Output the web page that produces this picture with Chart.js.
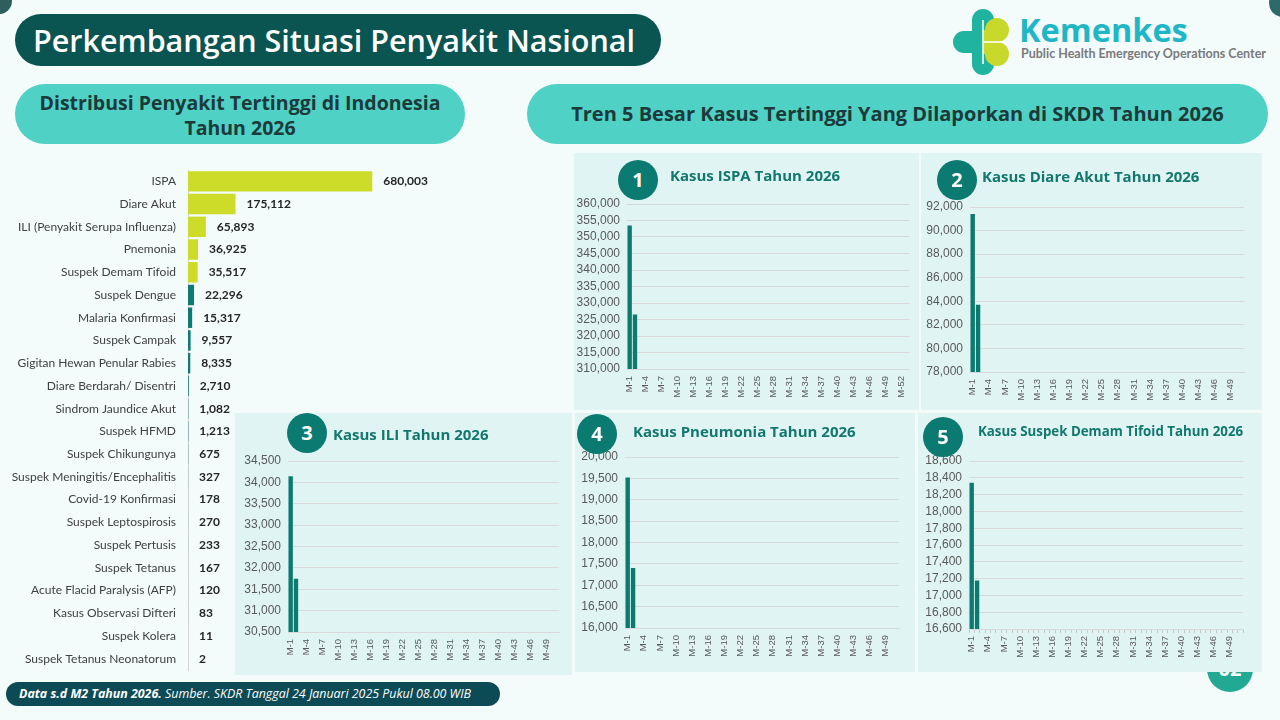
<!DOCTYPE html>
<html>
<head>
<meta charset="utf-8">
<script src="https://cdn.jsdelivr.net/npm/chart.js@4.4.1/dist/chart.umd.min.js"></script>
<style>
body { margin: 0; }
#page { position: relative; width: 1280px; height: 720px; overflow: hidden; background: #f3fbfb; font-family: "Open Sans", sans-serif; }
.abs { position: absolute; }
.panel { position: absolute; background: #e1f4f4; }
.pill { position: absolute; background: #4fd1c5; color: #1c3a3a; font-weight: 700; text-align: center; border-radius: 30px; }
.badge { position: absolute; width: 40px; height: 40px; border-radius: 50%; background: #0b7a70; color: #fff; font: 700 20px "Open Sans"; text-align: center; line-height: 40px; z-index: 3; }
.ctitle { position: absolute; color: #12786e; font: 700 15px "Open Sans"; line-height: 20px; z-index: 3; white-space: nowrap; }
canvas { position: absolute; z-index: 2; }
</style>
</head>
<body>
<div id="page">
  <div class="abs" style="left:-14px;top:-12px;width:26px;height:26px;border-radius:50%;background:#2f5e5e"></div>
  <div class="abs" style="left:1269px;top:-11px;width:28px;height:28px;border-radius:50%;background:#2e6a6a"></div>

  <div class="abs" style="left:15px;top:14px;width:646px;height:52px;border-radius:26px;background:#0a5452;color:#fff;font:600 30.5px 'Open Sans';line-height:52px;padding-left:18px;box-sizing:border-box;white-space:nowrap">Perkembangan Situasi Penyakit Nasional</div>

  <svg class="abs" style="left:948px;top:6px;z-index:3" width="70" height="72" viewBox="948 6 70 72">
    <rect x="953" y="31" width="34" height="22" rx="11" fill="#1fb3a0"/>
    <rect x="972" y="9" width="22" height="34" rx="11" fill="#1fb3a0"/>
    <rect x="972" y="42" width="22" height="33" rx="11" fill="#1fb3a0"/>
    <circle cx="997" cy="30" r="12" fill="#c8d92b"/>
    <circle cx="997" cy="54" r="12" fill="#c8d92b"/>
    <rect x="983" y="30" width="14" height="24" fill="#c8d92b"/>
    <path d="M983 20 L983 64 M983 42 L1008 42" stroke="#fff" stroke-width="1.5"/>
  </svg>
  <div class="abs" style="left:1019px;top:13px;color:#1fb6c5;font:700 32.5px 'Open Sans';line-height:34px">Kemenkes</div>
  <div class="abs" style="left:1021px;top:47px;color:#7a7a7a;font:700 12.5px Lato;line-height:14px;white-space:nowrap">Public Health Emergency Operations Center</div>

  <div class="pill" style="left:15px;top:84px;width:450px;height:60px;font-size:19.5px;line-height:25px;padding-top:6px;box-sizing:border-box;white-space:nowrap">Distribusi Penyakit Tertinggi di Indonesia<br>Tahun 2026</div>
  <div class="pill" style="left:527px;top:84px;width:741px;height:60px;font-size:20px;line-height:60px;white-space:nowrap">Tren 5 Besar Kasus Tertinggi Yang Dilaporkan di SKDR Tahun 2026</div>

  <div class="abs" style="left:1207px;top:646px;width:46px;height:46px;border-radius:50%;background:#22a994;color:#fff;font:700 20px 'Open Sans';text-align:center;line-height:46px">02</div>

  <div class="panel" style="left:574px;top:153px;width:345px;height:257px"></div>
  <div class="panel" style="left:921px;top:153px;width:341px;height:257px"></div>
  <div class="panel" style="left:235px;top:413px;width:337px;height:262px"></div>
  <div class="panel" style="left:575px;top:413px;width:340px;height:259px"></div>
  <div class="panel" style="left:918px;top:413px;width:344px;height:259px"></div>

  <canvas id="distChart" width="470" height="540" style="left:0px;top:150px"></canvas>
  <canvas id="ispaChart" width="348" height="217" style="left:573px;top:188px"></canvas>
  <canvas id="diareChart" width="340" height="217" style="left:916px;top:191px"></canvas>
  <canvas id="iliChart" width="337" height="223" style="left:234px;top:445px"></canvas>
  <canvas id="pneuChart" width="340" height="223" style="left:571px;top:441px"></canvas>
  <canvas id="tifoidChart" width="340" height="220" style="left:915px;top:445px"></canvas>

  <div class="badge" style="left:618px;top:160px">1</div>
  <div class="ctitle" style="left:670px;top:165px">Kasus ISPA Tahun 2026</div>
  <div class="badge" style="left:937px;top:160px">2</div>
  <div class="ctitle" style="left:982px;top:166px">Kasus Diare Akut Tahun 2026</div>
  <div class="badge" style="left:287px;top:413px">3</div>
  <div class="ctitle" style="left:333px;top:424px">Kasus ILI Tahun 2026</div>
  <div class="badge" style="left:577px;top:414px">4</div>
  <div class="ctitle" style="left:633px;top:421px">Kasus Pneumonia Tahun 2026</div>
  <div class="badge" style="left:923px;top:417px">5</div>
  <div class="ctitle" style="left:978px;top:421px;font-size:13.3px">Kasus Suspek Demam Tifoid Tahun 2026</div>

  <div class="abs" style="left:6px;top:682px;width:494px;height:24px;border-radius:12px;background:#0c4a55;color:#fff;font:italic 12.4px 'Open Sans';line-height:24px;padding-left:13px;box-sizing:border-box;white-space:nowrap"><b>Data s.d M2 Tahun 2026.</b> Sumber. SKDR Tanggal 24 Januari 2025 Pukul 08.00 WIB</div>
</div>

<script>
const diseases = [
    'ISPA', 'Diare Akut', 'ILI (Penyakit Serupa Influenza)', 'Pnemonia', 'Suspek Demam Tifoid',
    'Suspek Dengue', 'Malaria Konfirmasi', 'Suspek Campak', 'Gigitan Hewan Penular Rabies',
    'Diare Berdarah/ Disentri', 'Sindrom Jaundice Akut', 'Suspek HFMD', 'Suspek Chikungunya',
    'Suspek Meningitis/Encephalitis', 'Covid-19 Konfirmasi', 'Suspek Leptospirosis', 'Suspek Pertusis',
    'Suspek Tetanus', 'Acute Flacid Paralysis (AFP)', 'Kasus Observasi Difteri', 'Suspek Kolera',
    'Suspek Tetanus Neonatorum'
];
const totals = [680003, 175112, 65893, 36925, 35517, 22296, 15317, 9557, 8335, 2710, 1082, 1213, 675, 327, 178, 270, 233, 167, 120, 83, 11, 2];

const weeks = [
    'M-1', 'M-2', 'M-3', 'M-4', 'M-5', 'M-6', 'M-7', 'M-8', 'M-9', 'M-10',
    'M-11', 'M-12', 'M-13', 'M-14', 'M-15', 'M-16', 'M-17', 'M-18', 'M-19', 'M-20',
    'M-21', 'M-22', 'M-23', 'M-24', 'M-25', 'M-26', 'M-27', 'M-28', 'M-29', 'M-30',
    'M-31', 'M-32', 'M-33', 'M-34', 'M-35', 'M-36', 'M-37', 'M-38', 'M-39', 'M-40',
    'M-41', 'M-42', 'M-43', 'M-44', 'M-45', 'M-46', 'M-47', 'M-48', 'M-49', 'M-50',
    'M-51', 'M-52', 'M-53'
];
const weeksShort = weeks.slice(0, 51);

const ispaWeekly = [353500, 326503];
const diareWeekly = [91400, 83712];
const iliWeekly = [34145, 31748];
const pneumoniaWeekly = [19520, 17405];
const tifoidWeekly = [18340, 17177];

// value labels at the end of each bar
const valueLabels = {
    id: 'valueLabels',
    afterDatasetsDraw(chart) {
        const ctx = chart.ctx;
        const meta = chart.getDatasetMeta(0);
        ctx.save();
        ctx.font = 'bold 12px Lato';
        ctx.fillStyle = '#262626';
        ctx.textBaseline = 'middle';
        meta.data.forEach((bar, i) => {
            ctx.fillText(totals[i].toLocaleString('en-US'), bar.x + 11, bar.y);
        });
        ctx.restore();
    }
};

new Chart(document.getElementById('distChart'), {
    type: 'bar',
    data: {
        labels: diseases,
        datasets: [{
            data: totals,
            backgroundColor: (c) => c.dataIndex < 5 ? '#cddc29' : '#0e7a71',
            barPercentage: 0.9,
            categoryPercentage: 1
        }]
    },
    options: {
        indexAxis: 'y',
        responsive: false,
        animation: false,
        layout: { padding: { top: 20, bottom: 20, left: 0, right: 11 } },
        plugins: { legend: { display: false }, tooltip: { enabled: false } },
        scales: {
            x: { display: false, min: 0, max: 1000000 },
            y: {
                grid: { display: false },
                border: { color: '#d4d4d4' },
                ticks: { padding: 4, color: '#404040', font: { family: 'Lato', size: 12 } },
                afterFit: (s) => { s.width = 188; }
            }
        }
    },
    plugins: [valueLabels]
});

function weeklyChart(id, labels, values, yMin, yMax, yStep, tickMarks) {
    new Chart(document.getElementById(id), {
        type: 'bar',
        data: {
            labels: labels,
            datasets: [{ data: values, backgroundColor: '#0b7b70', barPercentage: 0.82, categoryPercentage: 1 }]
        },
        options: {
            responsive: false,
            animation: false,
            locale: 'en-US',
            layout: { padding: { top: 16, right: 8, bottom: 4, left: 0 } },
            plugins: { legend: { display: false }, tooltip: { enabled: false } },
            scales: {
                x: {
                    grid: { display: tickMarks, drawOnChartArea: false, tickLength: 4, color: '#c8c8c8' },
                    border: { color: '#d9d9d9' },
                    ticks: {
                        autoSkip: false, minRotation: 90, maxRotation: 90, padding: 3,
                        color: '#595959', font: { family: 'Liberation Sans', size: 9.5 },
                        callback: (v, i) => i % 3 === 0 ? labels[i] : ''
                    },
                    afterFit: (s) => { s.height = 32; }
                },
                y: {
                    min: yMin,
                    max: yMax,
                    grid: { color: '#d9d9d9', drawTicks: false },
                    border: { display: false },
                    ticks: { stepSize: yStep, autoSkip: false, padding: 7, color: '#595959', font: { family: 'Liberation Sans', size: 12 } },
                    afterFit: (s) => { s.width = 54; }
                }
            }
        }
    });
}

weeklyChart('ispaChart', weeks, ispaWeekly, 310000, 360000, 5000, false);
weeklyChart('diareChart', weeksShort, diareWeekly, 78000, 92000, 2000, false);
weeklyChart('iliChart', weeksShort, iliWeekly, 30500, 34500, 500, false);
weeklyChart('pneuChart', weeksShort, pneumoniaWeekly, 16000, 20000, 500, false);
weeklyChart('tifoidChart', weeksShort, tifoidWeekly, 16600, 18600, 200, true);
</script>
</body>
</html>
